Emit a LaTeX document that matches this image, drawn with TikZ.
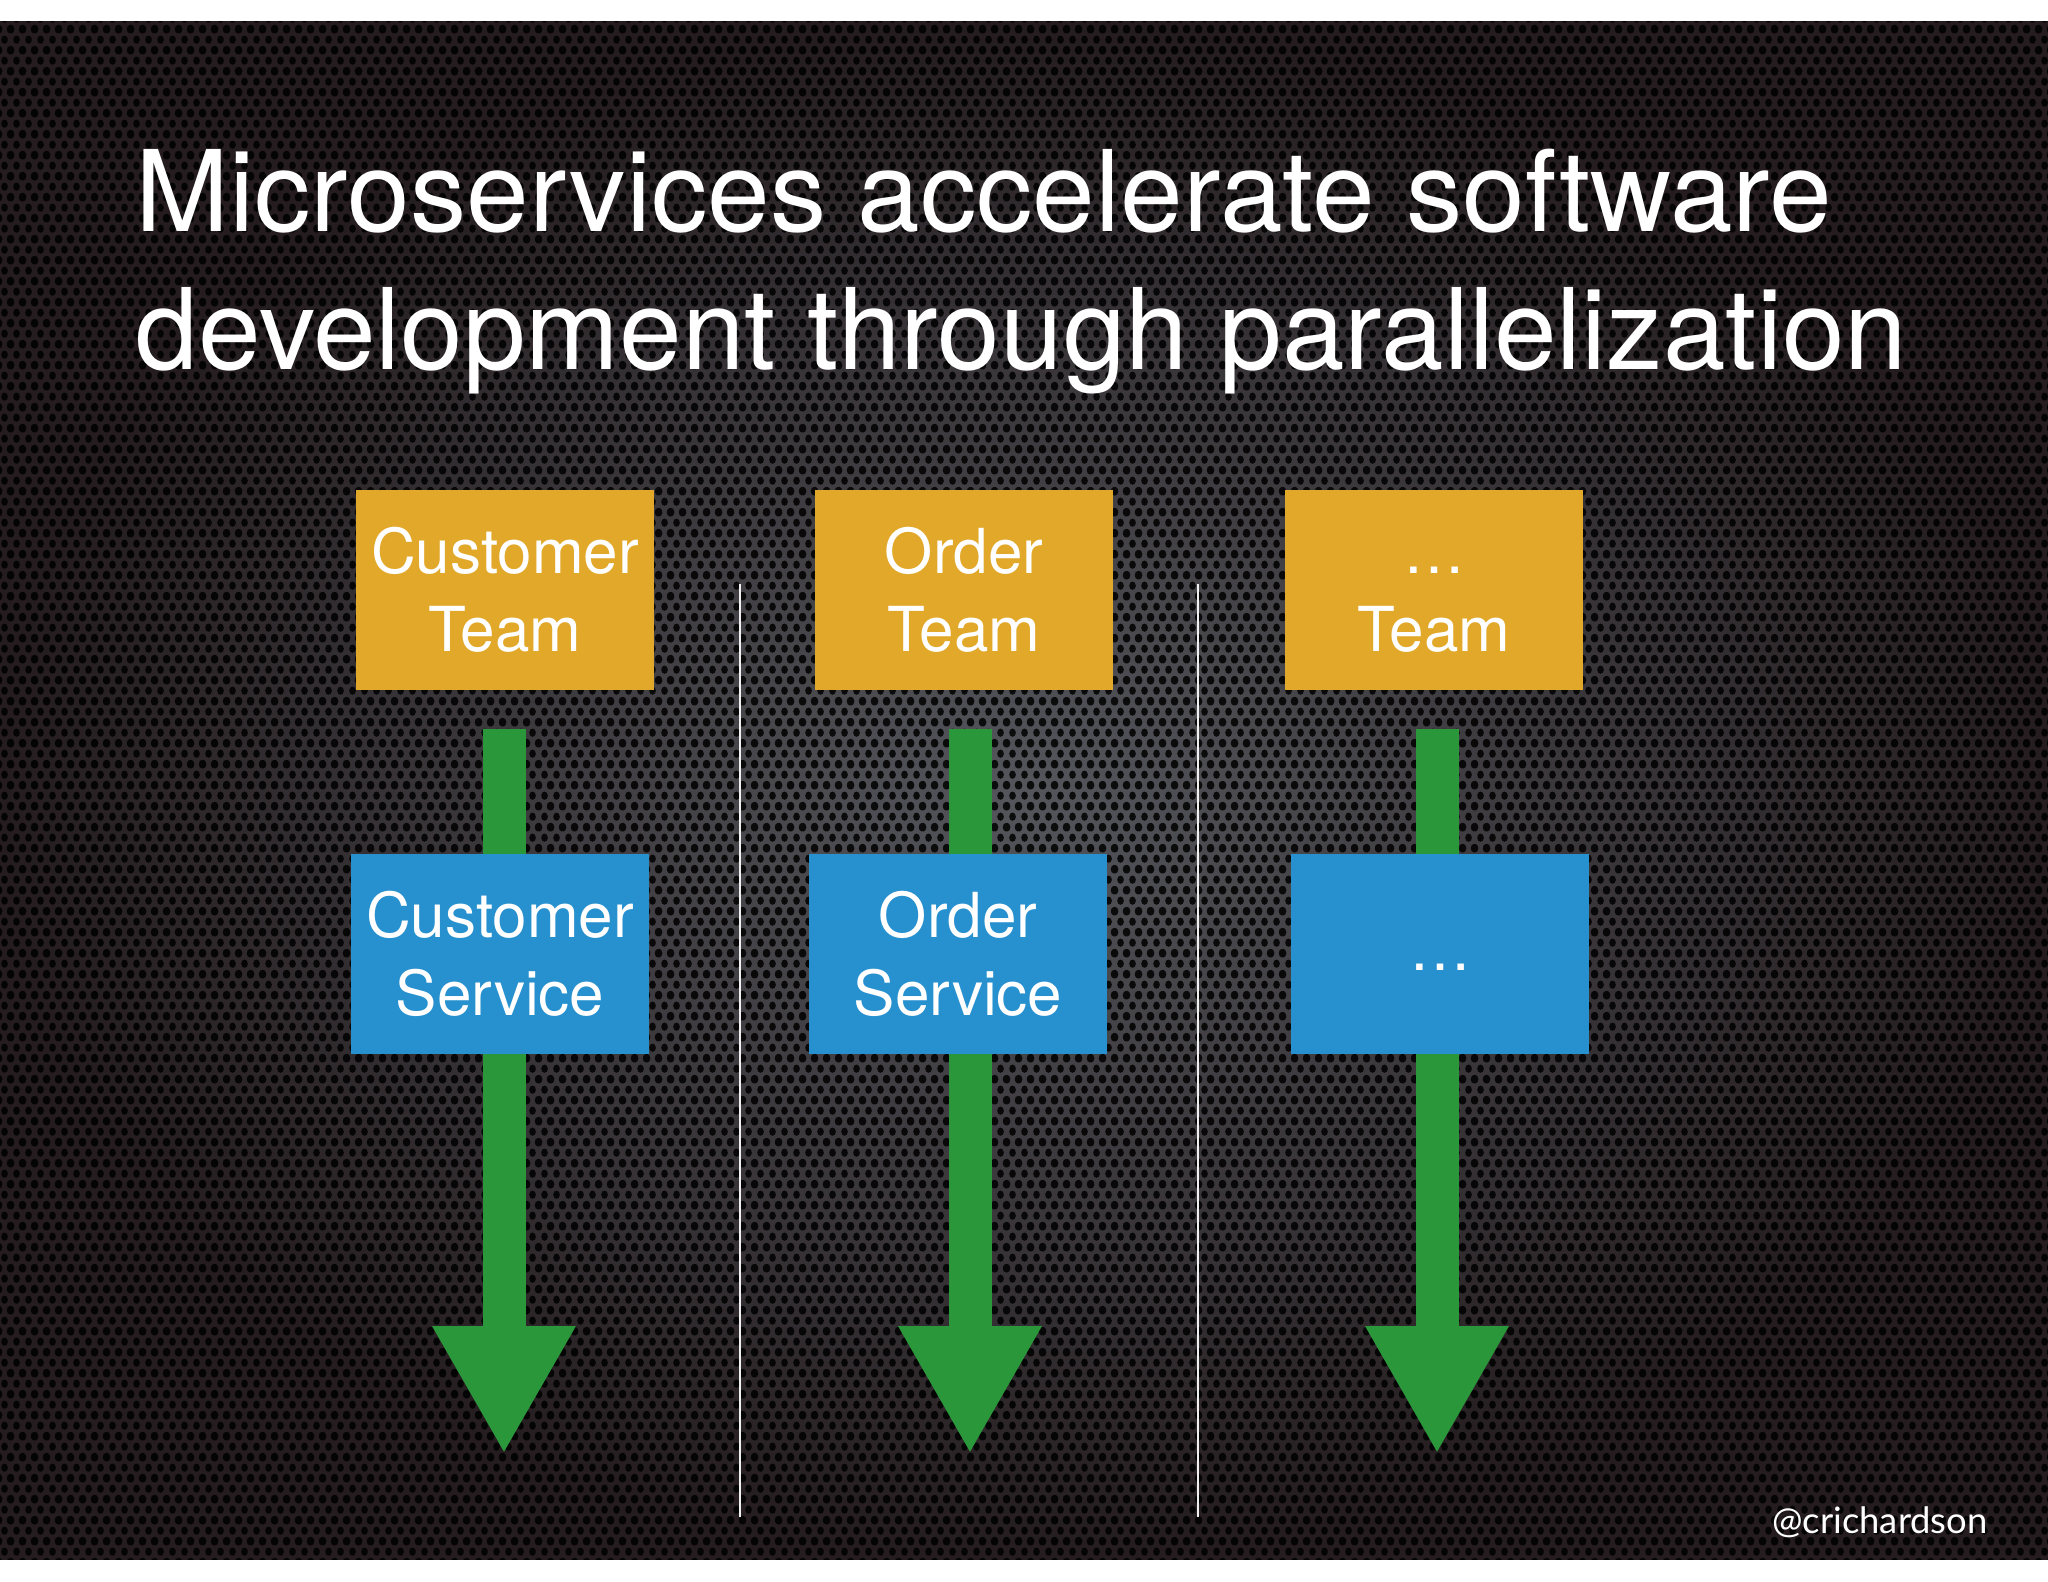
\documentclass[tikz,border=0pt]{standalone}
\usepackage{fontspec}
\setmainfont{TeX Gyre Heros}
\newfontfamily\tagfont{Lato}
\usetikzlibrary{positioning,arrows.meta,patterns.meta}

\definecolor{teamorange}{RGB}{226,168,42}
\definecolor{svcblue}{RGB}{39,145,208}
\definecolor{flowgreen}{RGB}{42,152,58}
\definecolor{bgmid}{RGB}{84,86,92}
\definecolor{bgedge}{RGB}{36,28,30}

% perforated metal holes
\tikzdeclarepattern{
  name=perforation,
  type=uncolored,
  bounding box={(0pt,0pt) and (6pt,10.4pt)},
  tile size={(6pt,10.4pt)},
  code={
    \foreach \hx/\hy in {0/0,6/0,0/10.4,6/10.4,3/5.2}
      \fill (\hx pt,\hy pt) ellipse [x radius=1.8pt, y radius=2.1pt];
  }
}

\tikzset{
  box/.style={minimum width=149pt, minimum height=100pt, inner sep=0pt,
    text=white, align=center, font=\fontsize{31pt}{39pt}\selectfont},
  teambox/.style={box, fill=teamorange},
  svcbox/.style={box, fill=svcblue},
  flow/.style={draw=flowgreen, line width=21.5pt,
    -{Triangle[width=67pt,length=64pt]}},
  divider/.style={draw=white!88!gray, line width=1pt},
  headline/.style={anchor=base west, inner sep=0pt, text=white,
    font=\fontsize{56.3pt}{69pt}\selectfont}
}

\begin{document}
\begin{tikzpicture}[x=0.5pt,y=-0.5pt]
\useasboundingbox (0,0) rectangle (2048,1582);
\fill[white] (0,0) rectangle (2048,1582);
\shade[inner color=bgmid, outer color=bgedge] (0,22) rectangle (2048,1559);
\fill[pattern=perforation, pattern color=black, fill opacity=.85] (0,22) rectangle (2048,1559);

% title
\node[headline] (title1) at (135,232) {Microservices accelerate software};
\node[headline] (title2) at (135,370) {development through parallelization};

% lanes
\coordinate (d1top) at (740,584);
\coordinate (d1bot) at (740,1517);
\coordinate (d2top) at (1198,584);
\coordinate (d2bot) at (1198,1517);
\draw[divider] (d1top) -- (d1bot);
\draw[divider] (d2top) -- (d2bot);

\foreach \sx/\n in {504/1,970/2,1437/3}
{
    \coordinate (s\n) at (\sx,729);
    \coordinate (e\n) at (\sx,1454);
    \draw[flow] (s\n) -- (e\n);
}

\node[teambox] (custteam) at (505,590) {Customer\\Team};
\node[teambox] (orderteam) at (964,590) {Order\\Team};
\node[teambox] (moreteam) at (1434,590) {\vphantom{T}\ldots\\Team};

\node[svcbox] (custsvc) at (500,954) {Customer\\Service};
\node[svcbox] (ordersvc) at (958,954) {Order\\Service};
\node[svcbox] (moresvc) at (1440,954) {\vphantom{Sg}\ldots};

\node[anchor=base east, inner sep=0pt, text=white, font=\tagfont\fontsize{18.2pt}{19pt}\selectfont] (handle) at (1988,1533) {@crichardson};

\end{tikzpicture}
\end{document}
